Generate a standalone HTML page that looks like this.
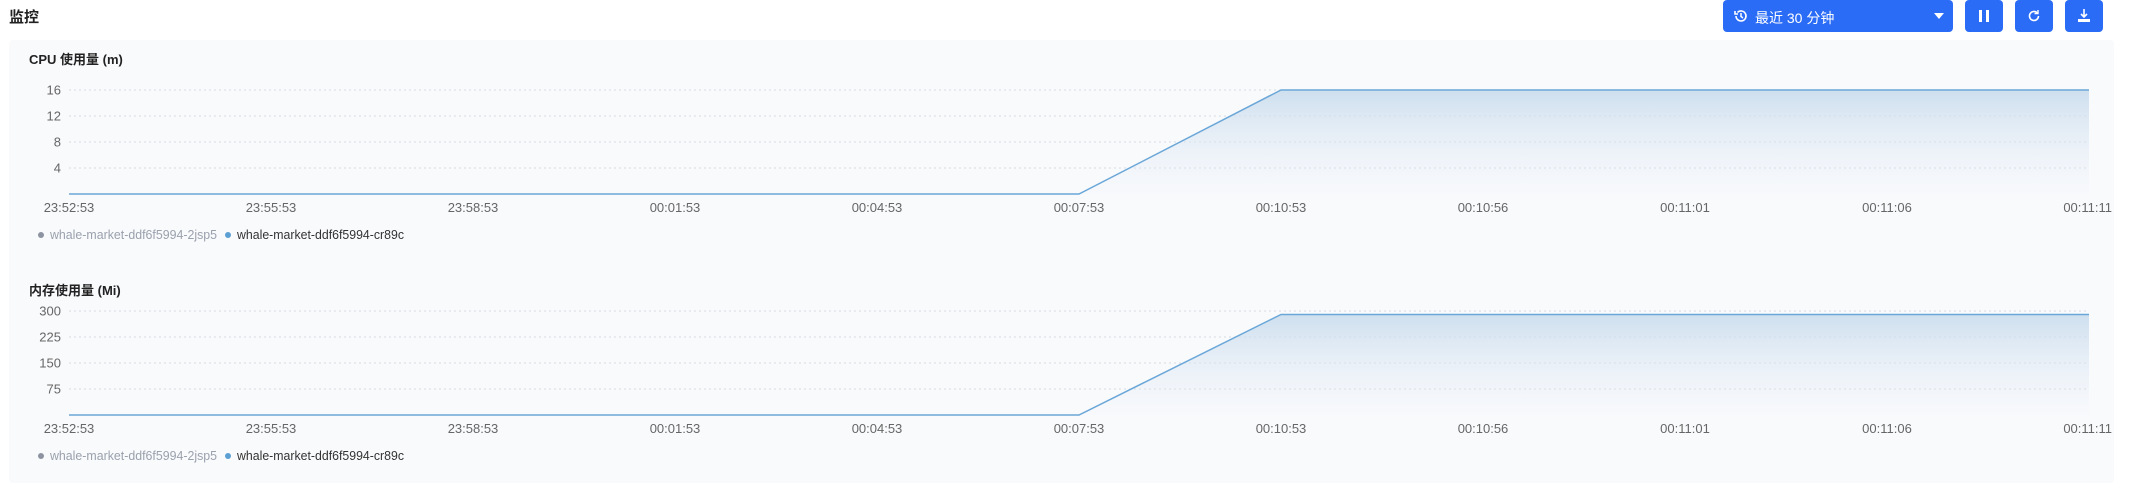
<!DOCTYPE html>
<html><head><meta charset="utf-8">
<style>
body{margin:0;width:2129px;height:486px;background:#fff;font-family:"Liberation Sans","Noto Sans CJK SC",sans-serif;position:relative;overflow:hidden}
.abs{position:absolute}
.btn{position:absolute;top:0;height:32px;background:#2b6cf6;border-radius:4px;color:#fff}
</style></head><body>
<div class="abs" style="left:9px;top:6px;font-size:15px;font-weight:bold;color:#222">监控</div>
<div class="btn" style="left:1723px;width:230px">
  <svg class="abs" style="left:10px;top:8px" width="16" height="16" viewBox="0 0 16 16"><path d="M3 8a5 5 0 1 0 1.5-3.6" fill="none" stroke="#fff" stroke-width="1.6"/><path d="M2 3v3h3" fill="none" stroke="#fff" stroke-width="1.6"/><path d="M8 5v3.5l2 1.5" fill="none" stroke="#fff" stroke-width="1.5"/></svg>
  <span class="abs" style="left:32px;top:8px;font-size:14px">最近 30 分钟</span>
  <span class="abs" style="left:211px;top:13px;width:0;height:0;border-left:5px solid transparent;border-right:5px solid transparent;border-top:6px solid #fff"></span>
</div>
<div class="btn" style="left:1965px;width:38px"><span class="abs" style="left:14px;top:10px;width:3px;height:12px;background:#fff"></span><span class="abs" style="left:21px;top:10px;width:3px;height:12px;background:#fff"></span></div>
<div class="btn" style="left:2015px;width:38px"><svg class="abs" style="left:12px;top:9px" width="14" height="14" viewBox="0 0 14 14"><path d="M11.5 7a4.5 4.5 0 1 1-1.3-3.2" fill="none" stroke="#fff" stroke-width="1.6"/><path d="M11 1v3.5H7.5" fill="none" stroke="#fff" stroke-width="1.4"/></svg></div>
<div class="btn" style="left:2065px;width:38px"><svg class="abs" style="left:12px;top:8px" width="14" height="16" viewBox="0 0 14 16"><path d="M7 1v8M4 6l3 3 3-3" fill="none" stroke="#fff" stroke-width="1.6"/><rect x="1" y="11" width="12" height="3" fill="#fff"/></svg></div>
<div class="abs" style="left:9px;top:40px;width:2105px;height:443px;background:#f9fafc;border-radius:4px"></div>
<svg class="abs" style="left:0;top:0" width="2129" height="486" id="charts" font-family="Liberation Sans, Noto Sans CJK SC, sans-serif"></svg>
<script>
const categories=["23:52:53","23:55:53","23:58:53","00:01:53","00:04:53","00:07:53","00:10:53","00:10:56","00:11:01","00:11:06","00:11:11"];
const cpuValues=[0,0,0,0,0,0,16,16,16,16,16];
const cpuTicks=[4,8,12,16];
const memValues=[0,0,0,0,0,0,290,290,290,290,290];
const memTicks=[75,150,225,300];
const seriesNames=["whale-market-ddf6f5994-2jsp5","whale-market-ddf6f5994-cr89c"];
const svg=document.getElementById('charts');
const NS='http://www.w3.org/2000/svg';
function mk(t,a,p){const e=document.createElementNS(NS,t);for(const k in a)e.setAttribute(k,a[k]);p.appendChild(e);return e;}
const defs=mk('defs',{},svg);
const lg=mk('linearGradient',{id:'ag',x1:0,y1:0,x2:0,y2:1},defs);
mk('stop',{offset:'0','stop-color':'#c9dced','stop-opacity':'0.9'},lg);
mk('stop',{offset:'1','stop-color':'#e8eff8','stop-opacity':'0.1'},lg);
function chart(name,title,titleY,top,bottom,max,ticks,vals){
  const g=mk('g',{},svg);
  
  
  const L=69,R=2089;
  const x=i=>L+(R-L)*i/(categories.length-1);
  const y=v=>bottom-(bottom-top)*v/max;
  const t=mk('text',{x:29,y:titleY,'font-size':13,'font-weight':'bold',fill:'#222'},g);
  t.textContent=title;
  
  
  ticks.forEach(v=>{
    const gl=mk('line',{x1:L,x2:R,y1:y(v),y2:y(v),stroke:'#d5d9e0','stroke-dasharray':'2,3'},g);
    
    
    const tl=mk('text',{x:61,y:y(v)+4.5,'font-size':13,fill:'#666','text-anchor':'end'},g);
    tl.textContent=v;
    
    
  });
  let d='';vals.forEach((v,i)=>{d+=(i?'L':'M')+x(i)+','+y(v);});
  const area=mk('path',{d:d+'L'+x(vals.length-1)+','+bottom+'L'+x(0)+','+bottom+'Z',fill:'url(#ag)'},g);
  
  
  const ln=mk('path',{d:d,fill:'none',stroke:'#6aa7d8','stroke-width':1.5},g);
  
  
  categories.forEach((c,i)=>{
    const xl=mk('text',{x:i==categories.length-1?x(i)+23:x(i),y:bottom+18,'font-size':13,fill:'#666','text-anchor':i==categories.length-1?'end':'middle'},g);
    xl.textContent=c;
    
    
  });
  const ly=bottom+45;
  const cols=['#8d93a0','#5b9fd3'],tcols=['#9aa1ad','#333'],lx=[41,228];
  seriesNames.forEach((s,i)=>{
    const le=mk('g',{},g);
    
    
    mk('circle',{cx:lx[i],cy:ly-4,r:3,fill:cols[i]},le);
    const lt=mk('text',{x:lx[i]+9,y:ly,'font-size':12.5,fill:tcols[i],textLength:167,lengthAdjust:'spacingAndGlyphs'},le);
    lt.textContent=s;
  });
}
chart('cpu-chart','CPU 使用量 (m)',64,90,194,16,cpuTicks,cpuValues);
chart('memory-chart','内存使用量 (Mi)',295,311,415,300,memTicks,memValues);
</script>
</body></html>
